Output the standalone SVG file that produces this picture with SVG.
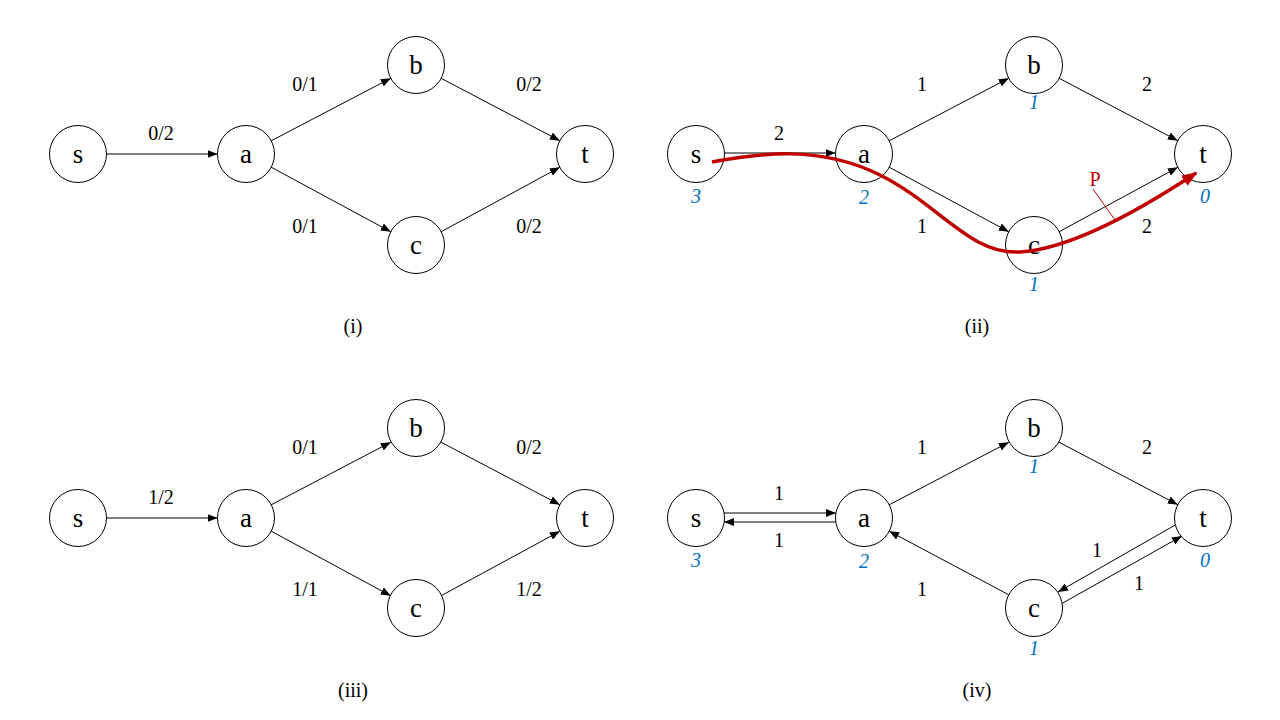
<svg xmlns="http://www.w3.org/2000/svg" width="1280" height="720" viewBox="0 0 1280 720">
<defs>
<marker id="ar" viewBox="0 0 10 8" refX="10" refY="4" markerWidth="10" markerHeight="8" markerUnits="userSpaceOnUse" orient="auto">
<path d="M0,0 L10,4 L0,8 Z" fill="#000"/>
</marker>
<marker id="rar" viewBox="0 0 16 12" refX="14" refY="6" markerWidth="16" markerHeight="12" markerUnits="userSpaceOnUse" orient="auto">
<path d="M0,0 L16,6 L0,12 Z" fill="#C00000"/>
</marker>
</defs>
<style>
.n circle{fill:#fff;stroke:#000;stroke-width:1}
.n text{font-family:"Liberation Serif",serif;font-size:27px;text-anchor:middle;fill:#000}
.e line{stroke:#000;stroke-width:1;marker-end:url(#ar)}
.l{font-family:"Liberation Serif",serif;font-size:20px;text-anchor:middle;fill:#000}
.d{font-family:"Liberation Serif",serif;font-size:20px;font-style:italic;text-anchor:middle;fill:#0070C0}
</style>
<rect width="1280" height="720" fill="#fff"/>
<g id="connectors" class="e">
<line x1="106.5" y1="154" x2="217.5" y2="154"/>
<line x1="271.2" y1="140.8" x2="390.8" y2="78.2"/>
<line x1="271.2" y1="167.2" x2="390.8" y2="231.8"/>
<line x1="441.2" y1="78.3" x2="559.8" y2="140.7"/>
<line x1="441.2" y1="231.7" x2="559.8" y2="167.3"/>
<line x1="724.5" y1="153" x2="835.5" y2="153"/>
<line x1="889.2" y1="140.8" x2="1008.8" y2="78.2"/>
<line x1="889.2" y1="167.2" x2="1008.8" y2="231.8"/>
<line x1="1059.2" y1="78.3" x2="1177.8" y2="140.7"/>
<line x1="1059.2" y1="231.7" x2="1177.8" y2="167.3"/>
<line x1="106.5" y1="518" x2="217.5" y2="518"/>
<line x1="271.2" y1="504.8" x2="390.8" y2="442.2"/>
<line x1="271.2" y1="531.2" x2="390.8" y2="595.8"/>
<line x1="441.2" y1="442.3" x2="559.8" y2="504.7"/>
<line x1="441.2" y1="595.7" x2="559.8" y2="531.3"/>
<line x1="724" y1="513" x2="836" y2="513"/>
<line x1="836" y1="522" x2="724" y2="522"/>
<line x1="889.2" y1="504.8" x2="1008.8" y2="442.2"/>
<line x1="1059.2" y1="442.3" x2="1177.8" y2="504.7"/>
<line x1="1008.8" y1="594.8" x2="889.2" y2="531.2"/>
<line x1="1061" y1="604" x2="1182" y2="536"/>
<line x1="1177" y1="524" x2="1058" y2="592"/>
</g>
<g id="p1-s" class="n"><circle cx="78" cy="154" r="28.5"/><text x="78" y="163">s</text></g>
<g id="p1-a" class="n"><circle cx="246" cy="154" r="28.5"/><text x="246" y="163">a</text></g>
<g id="p1-b" class="n"><circle cx="416" cy="65" r="28.5"/><text x="416" y="74">b</text></g>
<g id="p1-c" class="n"><circle cx="416" cy="245" r="28.5"/><text x="416" y="254">c</text></g>
<g id="p1-t" class="n"><circle cx="585" cy="154" r="28.5"/><text x="585" y="163">t</text></g>
<g id="p2-s" class="n"><circle cx="696" cy="154" r="28.5"/><text x="696" y="163">s</text></g>
<g id="p2-a" class="n"><circle cx="864" cy="154" r="28.5"/><text x="864" y="163">a</text></g>
<g id="p2-b" class="n"><circle cx="1034" cy="65" r="28.5"/><text x="1034" y="74">b</text></g>
<g id="p2-c" class="n"><circle cx="1034" cy="245" r="28.5"/><text x="1034" y="254">c</text></g>
<g id="p2-t" class="n"><circle cx="1203" cy="154" r="28.5"/><text x="1203" y="163">t</text></g>
<g id="p3-s" class="n"><circle cx="78" cy="518" r="28.5"/><text x="78" y="527">s</text></g>
<g id="p3-a" class="n"><circle cx="246" cy="518" r="28.5"/><text x="246" y="527">a</text></g>
<g id="p3-b" class="n"><circle cx="416" cy="428" r="28.5"/><text x="416" y="437">b</text></g>
<g id="p3-c" class="n"><circle cx="416" cy="608" r="28.5"/><text x="416" y="617">c</text></g>
<g id="p3-t" class="n"><circle cx="585" cy="518" r="28.5"/><text x="585" y="527">t</text></g>
<g id="p4-s" class="n"><circle cx="696" cy="518" r="28.5"/><text x="696" y="527">s</text></g>
<g id="p4-a" class="n"><circle cx="864" cy="518" r="28.5"/><text x="864" y="527">a</text></g>
<g id="p4-b" class="n"><circle cx="1034" cy="428" r="28.5"/><text x="1034" y="437">b</text></g>
<g id="p4-c" class="n"><circle cx="1034" cy="608" r="28.5"/><text x="1034" y="617">c</text></g>
<g id="p4-t" class="n"><circle cx="1203" cy="518" r="28.5"/><text x="1203" y="527">t</text></g>
<g id="labels">
<text class="l" x="161" y="140">0/2</text>
<text class="l" x="305" y="91">0/1</text>
<text class="l" x="529" y="91">0/2</text>
<text class="l" x="305" y="233">0/1</text>
<text class="l" x="529" y="233">0/2</text>
<text class="l" x="353" y="333">(i)</text>
<text class="l" x="779" y="140">2</text>
<text class="l" x="922" y="91">1</text>
<text class="l" x="1147" y="91">2</text>
<text class="l" x="922" y="233">1</text>
<text class="l" x="1147" y="233">2</text>
<text class="l" x="977" y="333">(ii)</text>
<text class="l" x="161" y="504">1/2</text>
<text class="l" x="305" y="454">0/1</text>
<text class="l" x="529" y="454">0/2</text>
<text class="l" x="305" y="596">1/1</text>
<text class="l" x="529" y="596">1/2</text>
<text class="l" x="353" y="697">(iii)</text>
<text class="l" x="779" y="500">1</text>
<text class="l" x="779" y="547">1</text>
<text class="l" x="922" y="454">1</text>
<text class="l" x="1147" y="454">2</text>
<text class="l" x="922" y="596">1</text>
<text class="l" x="1097" y="557">1</text>
<text class="l" x="1139" y="590">1</text>
<text class="l" x="977" y="697">(iv)</text>
</g>
<g id="distances">
<text class="d" x="696" y="203">3</text>
<text class="d" x="864" y="204">2</text>
<text class="d" x="1034" y="109">1</text>
<text class="d" x="1034" y="291">1</text>
<text class="d" x="1205" y="203">0</text>
<text class="d" x="696" y="567">3</text>
<text class="d" x="864" y="568">2</text>
<text class="d" x="1034" y="473">1</text>
<text class="d" x="1034" y="655">1</text>
<text class="d" x="1205" y="567">0</text>
</g>
<g id="path-P">
<path d="M712,162 C760,153 820,145 880,175 S970,255 1020,252 S1140,210 1196,173" fill="none" stroke="#C00000" stroke-width="3.5" marker-end="url(#rar)"/>
<line x1="1093" y1="189" x2="1115" y2="220" stroke="#C00000" stroke-width="1"/>
<text x="1095" y="186" font-family="Liberation Serif, serif" font-size="20" text-anchor="middle" fill="#C00000">P</text>
</g>
</svg>
